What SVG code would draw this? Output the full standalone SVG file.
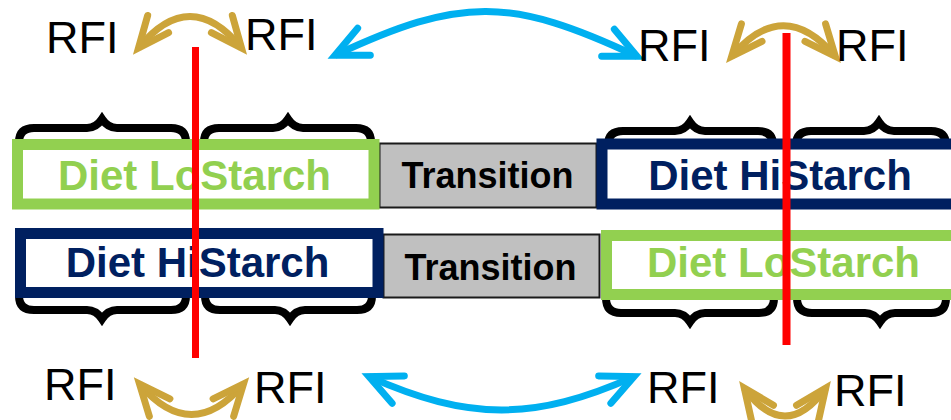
<svg xmlns="http://www.w3.org/2000/svg" width="951" height="420" viewBox="0 0 951 420">
<style>
.brace{fill:none;stroke:#000;stroke-width:8;stroke-linejoin:miter;stroke-miterlimit:10}
.box{fill:#fff;stroke-width:11}
.lo{stroke:#92D050}
.hi{stroke:#002060}
.trans{fill:#C0C0C0;stroke:#1a1a1a;stroke-width:2}
.diet{font-family:"Liberation Sans",Arial,sans-serif;font-weight:bold;font-size:42px;text-anchor:middle}
.tt{font-family:"Liberation Sans",Arial,sans-serif;font-weight:bold;font-size:36px;text-anchor:middle;fill:#000}
.rfi{font-family:"Liberation Sans",Arial,sans-serif;font-size:45px;fill:#000}
.red{stroke:#FF0000;fill:none}
.gold{fill:none;stroke:#CCA43A;stroke-width:7;marker-start:url(#mg);marker-end:url(#mg)}
.blue{fill:none;stroke:#00B0F0;stroke-width:7;marker-start:url(#mb);marker-end:url(#mb)}
</style>
<defs>
<marker id="mg" markerUnits="userSpaceOnUse" markerWidth="50" markerHeight="40" refX="40" refY="20" orient="auto-start-reverse" overflow="visible">
<path d="M9,6.5 L40,20 L9,33.5" fill="none" stroke="#CCA43A" stroke-width="7" stroke-linecap="round" stroke-linejoin="miter"/>
</marker>
<marker id="mb" markerUnits="userSpaceOnUse" markerWidth="50" markerHeight="40" refX="40" refY="20" orient="auto-start-reverse" overflow="visible">
<path d="M8,5 L40,20 L8,35" fill="none" stroke="#00B0F0" stroke-width="7" stroke-linecap="round" stroke-linejoin="miter"/>
</marker>
</defs>
<rect width="951" height="420" fill="#fff"/>

<g id="braces">
<path class="brace" d="M19,142 Q19,128 34,128 L87,128 Q96,128 102,119 Q108,128 117,128 L171,128 Q186,128 186,142"/>
<path class="brace" d="M204,142 Q204,128 219,128 L273,128 Q282,128 288,119 Q294,128 303,128 L356,128 Q371,128 371,142"/>
<path class="brace" d="M608,145 Q608,131 623,131 L675,131 Q684,131 690,122 Q696,131 705,131 L758,131 Q773,131 773,145"/>
<path class="brace" d="M796,145 Q796,131 811,131 L864,131 Q873,131 879,122 Q885,131 894,131 L931,131 Q946,131 946,145"/>
<path class="brace" d="M19,296 Q19,310 34,310 L87,310 Q96,310 102,319 Q108,310 117,310 L171,310 Q186,310 186,296"/>
<path class="brace" d="M205,296 Q205,310 220,310 L275,310 Q284,310 290,319 Q296,310 305,310 L357,310 Q372,310 372,296"/>
<path class="brace" d="M606,298 Q606,313 621,313 L675,313 Q684,313 690,322 Q696,313 705,313 L759,313 Q774,313 774,298"/>
<path class="brace" d="M797,298 Q797,313 812,313 L865,313 Q874,313 880,322 Q886,313 895,313 L931,313 Q946,313 946,298"/>
</g>

<g id="transition-top">
<rect class="trans" x="379.5" y="143.5" width="217" height="64"/>
<text class="tt" x="487.5" y="188">Transition</text>
</g>
<g id="transition-bottom">
<rect class="trans" x="383.5" y="234.5" width="216" height="63"/>
<text class="tt" x="490.5" y="280">Transition</text>
</g>

<g id="lostarch-left">
<rect class="box lo" x="17.5" y="144.5" width="356.5" height="59.5"/>
<text class="diet" x="194.5" y="190" fill="#92D050">Diet LoStarch</text>
</g>
<g id="histarch-left">
<rect class="box hi" x="20.5" y="233.5" width="357.5" height="59"/>
<text class="diet" x="197.5" y="277" fill="#002060">Diet HiStarch</text>
</g>
<g id="histarch-right">
<rect class="box hi" x="602" y="144" width="400" height="60"/>
<text class="diet" x="780" y="190" fill="#002060">Diet HiStarch</text>
</g>
<g id="lostarch-right">
<rect class="box lo" x="606.5" y="235.5" width="400" height="59"/>
<text class="diet" x="783.5" y="277" fill="#92D050">Diet LoStarch</text>
</g>

<g id="cut-lines">
<path class="red" stroke-width="7" d="M195.5,47 V358"/>
<path class="red" stroke-width="8" d="M786.5,33 V345"/>
</g>

<g id="connectors">
<path class="gold" d="M138.5,48 Q190,-15 241.5,48"/>
<path class="gold" d="M731.7,56.3 Q783.5,-5 835.3,56.3"/>
<path class="gold" d="M139.5,384 Q191.5,445 243.5,384"/>
<path class="gold" d="M744.3,388.1 Q785,444 825.7,388.1"/>
<path class="blue" d="M335,55.3 C461.8,-3.9 510.2,-2.9 637,56.3"/>
<path class="blue" d="M369,376.6 C468.6,421 534.4,421 634,376.6"/>
</g>

<g id="rfi-labels">
<text class="rfi" x="46" y="53">RFI</text>
<text class="rfi" x="245" y="50">RFI</text>
<text class="rfi" x="638" y="61">RFI</text>
<text class="rfi" x="836" y="61">RFI</text>
<text class="rfi" x="44" y="400">RFI</text>
<text class="rfi" x="254" y="403">RFI</text>
<text class="rfi" x="647" y="403">RFI</text>
<text class="rfi" x="834" y="406">RFI</text>
</g>
</svg>
